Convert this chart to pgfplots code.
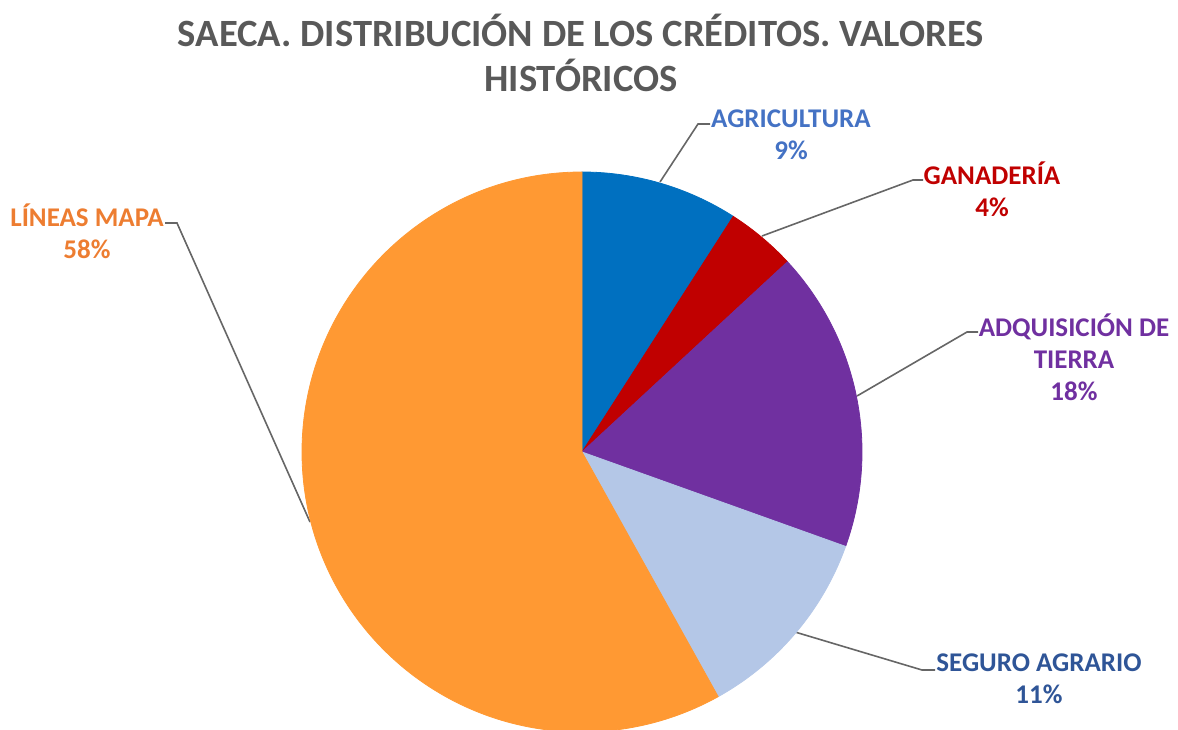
\documentclass[border=0pt]{standalone}
\usepackage{pgfplots}
\pgfplotsset{compat=1.18}
\usepackage{pgfplotstable}
\usepackage{fontspec}
\setmainfont{Carlito}
\definecolor{pc0}{RGB}{0,112,192}
\definecolor{pc1}{RGB}{192,0,0}
\definecolor{pc2}{RGB}{112,48,160}
\definecolor{pc3}{RGB}{180,199,231}
\definecolor{pc4}{RGB}{255,153,51}
\definecolor{tAgri}{RGB}{68,114,196}
\definecolor{tGana}{RGB}{192,0,0}
\definecolor{tAdq}{RGB}{112,48,160}
\definecolor{tSeg}{RGB}{47,85,151}
\definecolor{tMapa}{RGB}{237,125,49}
\definecolor{tTitle}{RGB}{89,89,89}
% slices: share (%), start and end angle (deg, counter-clockwise), centre at pixel coords
\pgfplotstableread{
x y value start end idx
582 277 9.1 57.3 90 0
582 277 4.0 42.8 57.3 1
582 277 17.4 -19.7 42.8 2
582 277 11.4 -60.9 -19.7 3
582 277 58.1 -270 -60.9 4
}\piedata
\begin{document}
\begin{tikzpicture}
\begin{axis}[
  width=589pt, height=364.5pt, scale only axis,
  xmin=0, xmax=1178, ymin=0, ymax=729,
  hide axis, clip=false,
]
\addplot[scatter, only marks, mark=*, mark size=0pt,
  visualization depends on={\thisrow{start} \as \sa},
  visualization depends on={\thisrow{end} \as \ea},
  visualization depends on={\thisrow{idx} \as \pci},
  scatter/@pre marker code/.code={%
    \pgfmathtruncatemacro\ci{\pci}%
    \fill[pc\ci] (0,0) -- (\sa:140pt) arc[start angle=\sa, end angle=\ea, radius=140pt] -- cycle;},
  scatter/@post marker code/.code={},
] table[x=x, y=y] {\piedata};
% leader lines
\addplot[black!60, line width=0.8pt, mark=none] coordinates {(710,605) (698,605) (660,547)};
\addplot[black!60, line width=0.8pt, mark=none] coordinates {(923,549) (913,549) (762,493)};
\addplot[black!60, line width=0.8pt, mark=none] coordinates {(978,397) (967,397) (857,333)};
\addplot[black!60, line width=0.8pt, mark=none] coordinates {(935,59) (922,59) (795,97)};
\addplot[black!60, line width=0.8pt, mark=none] coordinates {(165,506) (177,506) (310,207)};
% labels
\tikzset{lbl/.style={font=\fontsize{13.5}{16}\selectfont\bfseries, align=center}}
\node[lbl, text=tAgri] at (axis cs:791,594) {AGRICULTURA\\9\%};
\node[lbl, text=tGana] at (axis cs:992,540) {GANADERÍA\\4\%};
\node[lbl, text=tAdq] at (axis cs:1074,372) {ADQUISICIÓN DE\\TIERRA\\18\%};
\node[lbl, text=tSeg] at (axis cs:1039,50) {SEGURO AGRARIO\\11\%};
\node[lbl, text=tMapa] at (axis cs:87,498) {LÍNEAS MAPA\\58\%};
% title
\node[font=\fontsize{19.3}{22.5}\selectfont\bfseries, text=tTitle, align=center] at (axis cs:581,676) {SAECA. DISTRIBUCIÓN DE LOS CRÉDITOS. VALORES\\HISTÓRICOS};
\end{axis}
\pgfresetboundingbox
\path[use as bounding box] (current axis.south west) rectangle (current axis.north east);
\end{tikzpicture}
\end{document}
